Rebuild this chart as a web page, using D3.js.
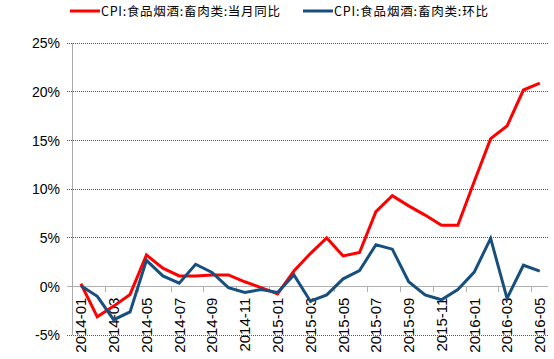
<!DOCTYPE html>
<html><head><meta charset="utf-8">
<script src="https://cdn.jsdelivr.net/npm/d3@7"></script>
<style>body{margin:0;background:#fff}svg{display:block}</style>
</head><body>
<svg id="c" width="554" height="359"></svg>
<script>
const months = ["2014-01","2014-02","2014-03","2014-04","2014-05","2014-06","2014-07","2014-08","2014-09","2014-10","2014-11","2014-12",
"2015-01","2015-02","2015-03","2015-04","2015-05","2015-06","2015-07","2015-08","2015-09","2015-10","2015-11","2015-12",
"2016-01","2016-02","2016-03","2016-04","2016-05"];
const yoy = [0.3,-3.1,-2.0,-0.8,3.25,1.9,1.1,1.1,1.2,1.2,0.5,-0.1,-0.75,1.6,3.4,5.0,3.15,3.5,7.7,9.35,8.3,7.35,6.3,6.3,10.8,15.2,16.5,20.2,20.9];
const mom = [0.1,-1.0,-3.4,-2.6,2.7,1.1,0.35,2.3,1.45,-0.1,-0.6,-0.3,-0.6,1.2,-1.5,-0.85,0.8,1.65,4.3,3.85,0.5,-0.85,-1.35,-0.3,1.5,4.95,-1.2,2.2,1.6];
const yTicks = [-5,0,5,10,15,20,25];
const seriesNames = ["CPI:食品烟酒:畜肉类:当月同比","CPI:食品烟酒:畜肉类:环比"];
const colors = ["#ff0000","#17507e"];

const svg = d3.select("#c");
const L = 72.7, R = 548, T = 43.3, B = 335.3;
const x = d3.scaleBand().domain(months).range([L, R]).padding(0);
const y = d3.scaleLinear().domain([-5, 25]).range([B, T]);
const cx = d => x(d) + x.bandwidth() / 2;

// gridlines
svg.append("g").selectAll("line").data(yTicks.filter(v => v !== 0)).join("line")
  .attr("x1", L - 6).attr("x2", R).attr("y1", d => y(d)).attr("y2", d => y(d))
  .attr("stroke", "#555").attr("stroke-width", 1).attr("stroke-dasharray", "1,1")
  .attr("shape-rendering", "crispEdges");
// y axis line
svg.append("line").attr("x1", L).attr("x2", L).attr("y1", y(25)).attr("y2", y(-5))
  .attr("stroke", "#aaa").attr("stroke-width", 1).attr("shape-rendering", "crispEdges");
// zero line
svg.append("line").attr("x1", L - 6).attr("x2", R).attr("y1", y(0)).attr("y2", y(0))
  .attr("stroke", "#b0b0b0").attr("stroke-width", 1).attr("shape-rendering", "crispEdges");

// y labels
svg.append("g").selectAll("text").data(yTicks).join("text")
  .attr("x", 60).attr("y", d => y(d)).attr("dy", "0.36em").attr("text-anchor", "end")
  .attr("font-family", "Liberation Sans, Arial, sans-serif").attr("font-size", 14).attr("fill", "#000")
  .text(d => d + "%");

// x ticks at band boundaries every 2
const tickIdx = d3.range(2, months.length, 2);
svg.append("g").selectAll("line").data(tickIdx).join("line")
  .attr("x1", i => x(months[i])).attr("x2", i => x(months[i]))
  .attr("y1", y(0)).attr("y2", y(0) + 5)
  .attr("stroke", "#b0b0b0").attr("shape-rendering", "crispEdges");

// x labels
const labelMonths = months.filter((m, i) => i % 2 === 0);
svg.append("g").selectAll("text").data(labelMonths).join("text")
  .attr("transform", d => `translate(${cx(d)},${y(0) + 11}) rotate(-90)`)
  .attr("dy", "0.36em").attr("text-anchor", "end")
  .attr("font-family", "Liberation Sans, Arial, sans-serif").attr("font-size", 15).attr("fill", "#000")
  .text(d => d);

// lines
const line = d3.line().x((d, i) => cx(months[i])).y(d => y(d));
[yoy, mom].forEach((s, k) => {
  svg.append("path").datum(s).attr("d", line).attr("fill", "none")
    .attr("stroke", colors[k]).attr("stroke-width", 3).attr("stroke-linejoin", "miter");
});

// legend
const lg = [{x: 70, name: seriesNames[0], c: colors[0], w: 179}, {x: 303, name: seriesNames[1], c: colors[1], w: 154}];
lg.forEach(l => {
  svg.append("line").attr("x1", l.x).attr("x2", l.x + 30).attr("y1", 11).attr("y2", 11)
    .attr("stroke", l.c).attr("stroke-width", 3);
  svg.append("text").attr("x", l.x + 31).attr("y", 11).attr("dy", "0.36em")
    .attr("font-family", "Noto Sans CJK SC, sans-serif").attr("font-size", 12.5).attr("fill", "#000")
    .attr("textLength", l.w).attr("lengthAdjust", "spacing")
    .text(l.name);
});
</script>
</body></html>
